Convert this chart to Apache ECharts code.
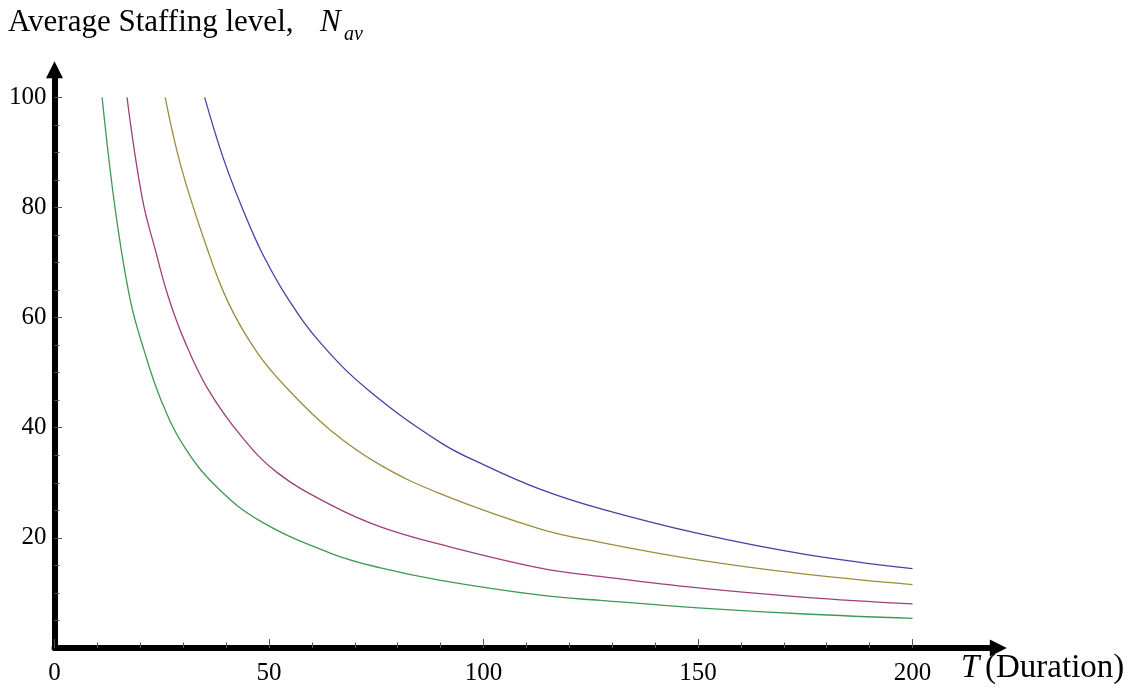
<!DOCTYPE html>
<html>
<head>
<meta charset="utf-8">
<script src="https://cdn.jsdelivr.net/npm/echarts@6/dist/echarts.min.js"></script>
<style>
  html, body { margin: 0; padding: 0; background: #fff; }
  #chart { width: 1128px; height: 698px; }
</style>
</head>
<body>
<div id="chart"></div>
<script>
// Average staffing level N_av against project duration T, one curve per effort level
const blueT = [35, 39.5, 44.6, 48.8, 54.6, 62, 72.9, 90, 100, 113.3, 127.2, 150, 175, 200];
const blueN = [100, 88.6, 78.3, 71.1, 63.2, 55.4, 47.0, 37.3, 33.3, 28.8, 25.3, 20.8, 17.0, 14.4];

const oliveT = [25.8, 29.4, 34.9, 40.4, 47.3, 54.4, 64.4, 76, 90, 113.3, 127.2, 150, 175, 200];
const oliveN = [100, 87.7, 74.1, 62.9, 53.6, 47.0, 39.5, 33.2, 28.0, 21.6, 19.2, 16.0, 13.4, 11.5];

const magentaT = [16.9, 20.5, 23.6, 26.6, 30.2, 35.7, 43.4, 52.0, 64.4, 76, 90, 113.3, 127.2, 150, 175, 200];
const magentaN = [100, 81.5, 72, 63.6, 56.0, 47.1, 38.6, 31.8, 26.0, 22.0, 18.8, 14.5, 13.0, 10.9, 9.2, 8.0];

const greenT = [11.1, 14.1, 17.6, 20.9, 24.8, 30.2, 38, 48.1, 64.4, 76, 90, 113.3, 127.2, 150, 175, 200];
const greenN = [100, 80, 63.4, 54, 45.1, 36.6, 29.1, 23.0, 17.2, 14.55, 12.3, 9.6, 8.65, 7.3, 6.17, 5.38];

// Axis ticks: labelled major ticks and the unlabelled minor ticks between them
const xTickLabels = [0, 50, 100, 150, 200];
const xMinorTicks = [10, 20, 30, 40, 60, 70, 80, 90, 110, 120, 130, 140, 160, 170, 180, 190];
const yTickLabels = [20, 40, 60, 80, 100];
const yMinorTicks = [5, 10, 15, 25, 30, 35, 45, 50, 55, 65, 70, 75, 85, 90, 95];

const SERIF = '"Liberation Serif", "Times New Roman", serif';
const TICK_COLOR = '#555';

function pairs(xs, ys) {
  return xs.map((x, i) => [x, ys[i]]);
}

function curve(name, xs, ys, color) {
  return {
    name: name,
    type: 'line',
    xAxisIndex: 0,
    yAxisIndex: 0,
    data: pairs(xs, ys),
    showSymbol: false,
    smooth: 0.4,
    lineStyle: { color: color, width: 1.3 },
    silent: true,
    z: 3
  };
}

const X_MAX = 220;
const Y_MAX = 105;

const chart = echarts.init(document.getElementById('chart'), null, { renderer: 'canvas' });

chart.setOption({
  backgroundColor: '#fff',
  animation: false,
  grid: {
    left: 54.5,
    right: 129.7,
    top: 69.8,
    bottom: 50,
    containLabel: false,
    outerBoundsMode: 'none'
  },
  xAxis: [
    {
      type: 'value',
      min: 0,
      max: X_MAX,
      position: 'bottom',
      axisLine: {
        show: true,
        onZero: false,
        symbol: ['none', 'triangle'],
        symbolSize: [17, 17],
        lineStyle: { color: '#000', width: 6 }
      },
      axisTick: {
        show: true,
        inside: true,
        length: 5.5,
        customValues: xMinorTicks,
        lineStyle: { color: TICK_COLOR, width: 1 }
      },
      axisLabel: { show: false },
      splitLine: { show: false }
    },
    {
      type: 'value',
      min: 0,
      max: X_MAX,
      position: 'bottom',
      axisLine: { show: false, onZero: false },
      axisTick: {
        show: true,
        inside: true,
        length: 9,
        customValues: xTickLabels,
        lineStyle: { color: TICK_COLOR, width: 1 }
      },
      axisLabel: {
        show: true,
        customValues: xTickLabels,
        color: '#000',
        fontFamily: SERIF,
        fontSize: 25,
        margin: 13
      },
      splitLine: { show: false }
    }
  ],
  yAxis: [
    {
      type: 'value',
      min: 0,
      max: Y_MAX,
      position: 'left',
      axisLine: {
        show: true,
        onZero: false,
        symbol: ['none', 'triangle'],
        symbolSize: [17, 17],
        lineStyle: { color: '#000', width: 6 }
      },
      axisTick: {
        show: true,
        inside: true,
        length: 5,
        customValues: yMinorTicks,
        lineStyle: { color: TICK_COLOR, width: 1 }
      },
      axisLabel: { show: false },
      splitLine: { show: false }
    },
    {
      type: 'value',
      min: 0,
      max: Y_MAX,
      position: 'left',
      axisLine: { show: false, onZero: false },
      axisTick: {
        show: true,
        inside: true,
        length: 7.6,
        customValues: yTickLabels,
        lineStyle: { color: TICK_COLOR, width: 1 }
      },
      axisLabel: {
        show: true,
        customValues: yTickLabels,
        color: '#000',
        fontFamily: SERIF,
        fontSize: 25,
        margin: 8
      },
      splitLine: { show: false }
    }
  ],
  graphic: [
    {
      type: 'text',
      x: 8,
      y: 7,
      style: { text: 'Average Staffing level,', font: '31px ' + SERIF, fill: '#000', verticalAlign: 'top' }
    },
    {
      type: 'text',
      x: 320,
      y: 7,
      style: { text: 'N', font: 'italic 31px ' + SERIF, fill: '#000', verticalAlign: 'top' }
    },
    {
      type: 'text',
      x: 344,
      y: 25,
      style: { text: 'av', font: 'italic 20px ' + SERIF, fill: '#000', verticalAlign: 'top' }
    },
    {
      type: 'text',
      x: 961,
      y: 652,
      style: { text: 'T', font: 'italic 33px ' + SERIF, fill: '#000', verticalAlign: 'top' }
    },
    {
      type: 'text',
      x: 985,
      y: 652,
      style: { text: '(Duration)', font: '33px ' + SERIF, fill: '#000', verticalAlign: 'top' }
    }
  ],
  series: [
    curve('E1', blueT, blueN, '#4343a3'),
    curve('E2', magentaT, magentaN, '#9f3f7b'),
    curve('E3', oliveT, oliveN, '#9c8c3e'),
    curve('E4', greenT, greenN, '#3d9a55')
  ]
});
</script>
</body>
</html>
